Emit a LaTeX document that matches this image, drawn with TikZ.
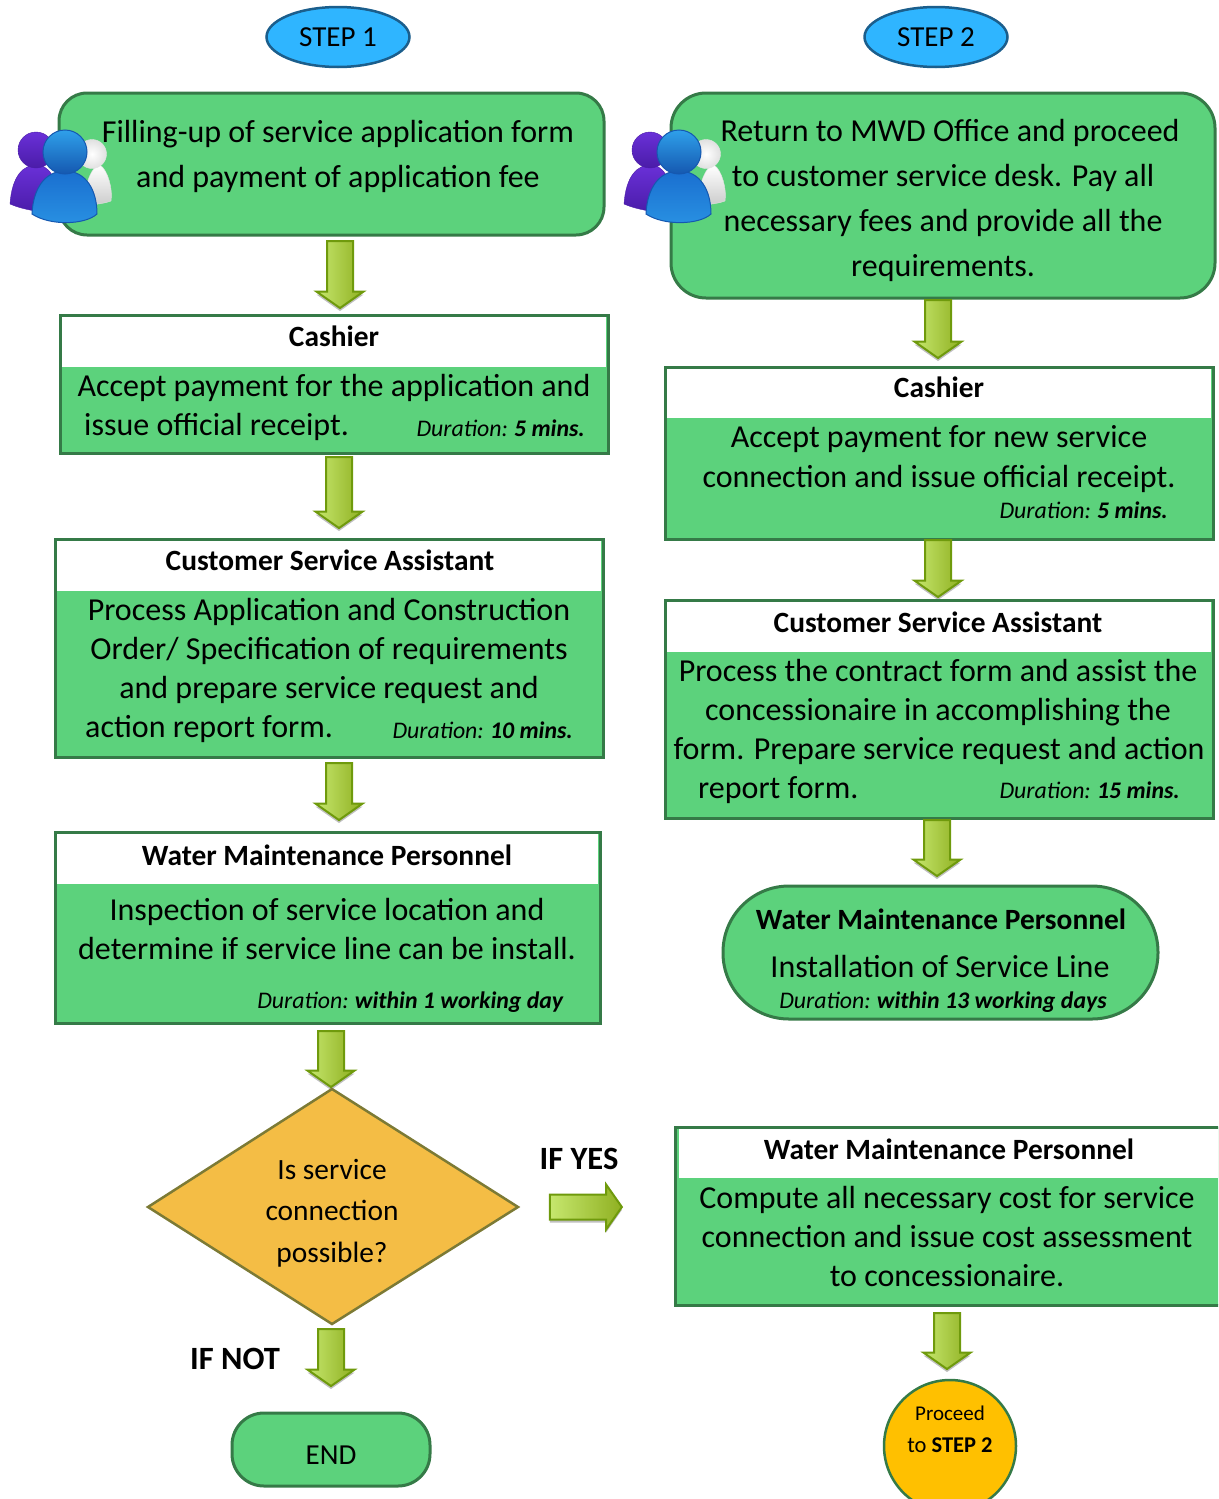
\documentclass[tikz,border=0pt]{standalone}
\usepackage{fontspec}
\setmainfont{Carlito}
\usetikzlibrary{shapes.geometric,shapes.arrows,shadows,calc}
\definecolor{boxgreen}{HTML}{5CD27C}
\definecolor{boxedge}{HTML}{357A47}
\definecolor{stepblue}{HTML}{2FB5FF}
\definecolor{stepedge}{HTML}{1B5E8C}
\definecolor{diafill}{HTML}{F4BD45}
\definecolor{diaedge}{HTML}{7C7A35}
\definecolor{arrowlight}{HTML}{C6E76E}
\definecolor{arrowdark}{HTML}{8FB021}
\definecolor{arrowedge}{HTML}{6F9A0C}
\definecolor{goldfill}{HTML}{FFC000}
\definecolor{purplea}{HTML}{6A30D8}
\definecolor{purpleb}{HTML}{4A1CA8}
\definecolor{bluea}{HTML}{2FA0EA}
\definecolor{blueb}{HTML}{1A6FD0}
\definecolor{bluec}{HTML}{1558B0}
\newcommand{\fsz}[1]{\fontsize{#1}{#1}\selectfont}
\newcommand{\dur}[1]{\textit{Duration:\hspace{-1pt} \textbf{#1}}}
\tikzset{
  txt/.style={inner sep=0pt,font=\fsz{32},align=center,text height=27pt,text depth=6pt},
  hdr/.style={inner sep=0pt,font=\fsz{29.4}\bfseries,text height=26pt,text depth=6pt},
  durtxt/.style={inner sep=0pt,font=\fsz{23.8},anchor=east},
  lefttxt/.style={txt,anchor=west},
  panel/.style={draw=boxedge,fill=boxgreen,line width=3pt},
  band/.style={fill=white},
  round panel/.style={panel,rounded corners=#1},
  stepoval/.style={ellipse,draw=stepedge,fill=stepblue,line width=2.5pt,minimum width=143pt,minimum height=60pt,inner sep=0pt,font=\fsz{29}},
  flow/.style={single arrow,draw=arrowedge,line width=2pt,inner sep=0pt,left color=arrowlight,right color=arrowdark,
    single arrow tip angle=110,general shadow={shadow yshift=-3pt,opacity=.25,fill=black}},
  downflow/.style={flow,rotate=-90,xshift=-4.5pt,text height=24pt,text depth=0pt,single arrow head extend=10.5pt},
  rightflow/.style={flow,xshift=-4.5pt,text height=23pt,text depth=0pt,single arrow head extend=10pt},
}
% people icon; #1 is the x shift
\newcommand{\people}[1]{
  \begin{scope}[xshift=#1pt]
    \draw[draw=black!12,top color=white,bottom color=black!20] (82,205) .. controls (88,170) and (96,165) .. (100,165) .. controls (108,170) and (113,190) .. (111,201) .. controls (103,204) and (92,205) .. (82,205) -- cycle;
    \draw[draw=black!10,inner color=white,outer color=black!12] (92,154) circle (14.5pt);
    \draw[draw=purpleb,top color=purplea,bottom color=purpleb] (10,204) .. controls (12,175) and (24,165) .. (36,165) .. controls (48,165) and (58,175) .. (60,212) .. controls (42,213) and (24,210) .. (10,204) -- cycle;
    \draw[draw=purpleb,top color=purplea,bottom color=purpleb] (36,150) circle (18pt);
    \draw[draw=bluec,line width=1pt,top color=blueb,bottom color=bluea!70!blueb] (32,214) .. controls (33,190) and (44,171) .. (65,171) .. controls (86,171) and (97,190) .. (97,214) .. controls (85,225) and (50,226) .. (32,214) -- cycle;
    \draw[draw=bluec,line width=1pt,top color=bluea,bottom color=bluec] (65,152) circle (22pt);
  \end{scope}
}
\begin{document}
\begin{tikzpicture}[x=1pt,y=-1pt]
\useasboundingbox (0,0) rectangle (1218,1499);
\clip (0,0) rectangle (1218,1499);

% STEP ovals
\node[stepoval] (step1) at (338,37) {STEP 1};
\node[stepoval] (step2) at (936,37) {STEP 2};

% left column
\draw[round panel=28pt] (59,93) rectangle (604,235);
\node[txt] (a1) at (338,132) {Filling-up of service application form};
\node[txt] (a2) at (338,177) {and payment of application fee};
\people{0}

\node[downflow,minimum height=67pt] (f1) at (340,274.5) {};

\draw[panel] (60,315) rectangle (608,453);
\fill[band] (62,317) rectangle (606,367);
\node[hdr] (bt) at (334,336) {Cashier};
\node[txt] (b1) at (334,386) {Accept payment for the application and};
\node[lefttxt] (b2) at (84,425) {issue official receipt.};
\node[durtxt] (bd) at (585,428) {\dur{5 mins.}};

\node[downflow,minimum height=71pt] (f2) at (339,492.5) {};

\draw[panel] (55,539) rectangle (603,757);
\fill[band] (57,541) rectangle (601,591);
\node[hdr] (ct) at (330,560) {Customer Service Assistant};
\node[txt] (c1) at (329,610) {Process Application and Construction};
\node[txt] (c2) at (329,649) {Order/ Specification of requirements};
\node[txt] (c3) at (329,688) {and prepare service request and};
\node[lefttxt] (c4) at (85,727) {action report form.};
\node[durtxt] (cd) at (573,730) {\dur{10 mins.}};

\node[downflow,minimum height=57pt] (f3) at (339,791.5) {};

\draw[panel] (55,832) rectangle (600,1023);
\fill[band] (57,834) rectangle (598,884);
\node[hdr] (dt) at (327,855) {Water Maintenance Personnel};
\node[txt] (d1) at (327,910) {Inspection of service location and};
\node[txt] (d2) at (327,949) {determine if service line can be install.};
\node[durtxt] (dd) at (564,1002) {\dur{within 1 working day}};

\node[downflow,minimum height=56pt] (f4) at (331,1059) {};

\coordinate (dn) at (332,1089);
\coordinate (de) at (518,1207);
\coordinate (ds) at (332,1324);
\coordinate (dw) at (148,1207);
\draw[draw=diaedge,fill=diafill,line width=2.5pt,line join=miter] (dn) -- (de) -- (ds) -- (dw) -- cycle;
\node[txt,font=\fsz{29.4}] (q1) at (332,1169) {Is service};
\node[txt,font=\fsz{29.4}] (q2) at (332,1210) {connection};
\node[txt,font=\fsz{29.4}] (q3) at (332,1252) {possible?};

\node[hdr,font=\fsz{32.5}\bfseries] (yes) at (579,1159) {IF YES};
\node[rightflow,minimum height=72pt] (f5) at (586,1207) {};
\node[hdr,font=\fsz{32.5}\bfseries] (no) at (235,1359) {IF NOT};
\node[downflow,minimum height=57pt] (f6) at (331,1357.5) {};

\draw[round panel=32pt] (232,1413) rectangle (430,1486);
\node[txt,font=\fsz{29}] (endt) at (331,1454) {END};

% right column
\draw[round panel=35pt] (671,93) rectangle (1215,298);
\node[txt] (e1) at (950,131) {Return to MWD Office and proceed};
\node[txt] (e2) at (943,176) {to customer service desk. Pay all};
\node[txt] (e3) at (943,221) {necessary fees and provide all the};
\node[txt] (e4) at (943,266) {requirements.};
\people{614}

\node[downflow,minimum height=58pt] (f7) at (938,329) {};

\draw[panel] (665,367) rectangle (1213,539);
\fill[band] (667,369) rectangle (1211,418);
\node[hdr] (ft) at (939,387) {Cashier};
\node[txt] (f1t) at (939,437) {Accept payment for new service};
\node[txt] (f2t) at (939,477) {connection and issue official receipt.};
\node[durtxt] (fd) at (1168,510) {\dur{5 mins.}};

\node[downflow,minimum height=57pt] (f8) at (938,568.5) {};

\draw[panel] (665,600) rectangle (1213,818);
\fill[band] (667,602) rectangle (1211,652);
\node[hdr] (gt) at (938,622) {Customer Service Assistant};
\node[txt] (g1) at (938,671) {Process the contract form and assist the};
\node[txt] (g2) at (938,710) {concessionaire in accomplishing the};
\node[txt] (g3) at (939,749) {form. Prepare service request and action};
\node[lefttxt] (g4) at (698,788) {report form.};
\node[durtxt] (gd) at (1180,790) {\dur{15 mins.}};

\node[downflow,minimum height=56pt] (f9) at (937,848) {};

\draw[round panel=66pt] (723,886) rectangle (1158,1019);
\node[hdr] (ht) at (941,919) {Water Maintenance Personnel};
\node[txt] (h1) at (940,967) {Installation of Service Line};
\node[durtxt,anchor=center] (hd) at (943,1002) {\dur{within 13 working days}};

\draw[panel] (675,1127) rectangle (1230,1305);
\fill[band] (679,1129) rectangle (1230,1178);
\node[hdr] (it) at (949,1149) {Water Maintenance Personnel};
\node[txt] (i1) at (947,1198) {Compute all necessary cost for service};
\node[txt] (i2) at (947,1237) {connection and issue cost assessment};
\node[txt] (i3) at (947,1276) {to concessionaire.};

\node[downflow,minimum height=56pt] (f10) at (947,1341) {};

\node[circle,draw=boxedge,fill=goldfill,line width=2.5pt,minimum size=132pt,inner sep=0pt] (go) at (950,1446) {};
\node[inner sep=0pt,font=\fsz{21}] (go1) at (950,1413) {Proceed};
\node[inner sep=0pt,font=\fsz{22.5}] (go2) at (950,1445) {to \textbf{STEP 2}};
\end{tikzpicture}
\end{document}
